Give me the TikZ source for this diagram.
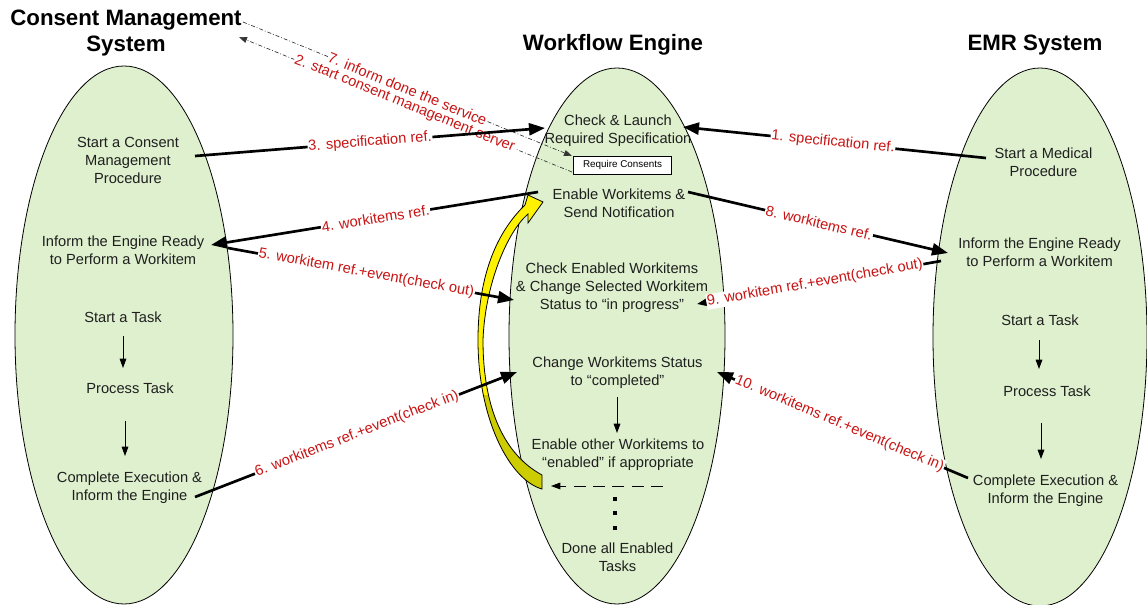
\documentclass[tikz,border=0pt]{standalone}
\usepackage{fontspec}
\setmainfont{Liberation Sans}
\usetikzlibrary{arrows.meta}
\definecolor{egg}{RGB}{222,240,206}
\definecolor{lblred}{RGB}{200,20,20}
\definecolor{olivey}{RGB}{204,204,0}
\begin{document}
\begin{tikzpicture}[x=0.75pt,y=-0.75pt,
  txt/.style={font=\fontsize{11}{13.5}\selectfont, align=center, inner sep=0pt, text=black!88},
  ttl/.style={font=\fontsize{16.7}{20}\selectfont\bfseries, align=center, inner sep=0pt},
  conn/.style={line width=2pt, -{Triangle[length=12pt,width=9pt]}},
  lbl/.style={font=\fontsize{11}{13}\selectfont, text=lblred, fill=white, inner sep=0.6pt, sloped},
  smallarr/.style={line width=0.7pt, -{Triangle[length=7pt,width=5pt]}},
  dd/.style={line width=0.5pt, black!80, dash pattern=on 3pt off 1.5pt on 0.6pt off 1.5pt, -{Triangle[length=6pt,width=4.5pt]}},
  oval/.style={draw, fill=egg, line width=0.6pt}
]
\useasboundingbox (0,0) rectangle (1147,605);

% ellipses
\draw[oval] (124,335) ellipse [x radius=109, y radius=269];
\draw[oval] (617,336) ellipse [x radius=108, y radius=268];
\draw[oval] (1040,337) ellipse [x radius=107, y radius=269];

% titles
\node[ttl] (t1) at (126,33) {Consent Management\\System};
\node[ttl] (t2) at (613,45) {Workflow Engine};
\node[ttl] (t3) at (1035,45) {EMR System};

% left texts
\node[txt] (l1) at (128,160) {Start a Consent\\Management\\Procedure};
\node[txt] (l2) at (123,250) {Inform the Engine Ready\\to Perform a Workitem};
\node[txt] (l3) at (123,317) {Start a Task};
\node[txt] (l4) at (130,388) {Process Task};
\node[txt] (l5) at (129.5,488) {Complete Execution \&\\Inform the Engine};

% middle texts
\node[txt] (m1) at (618,131) {Check \& Launch\\Required Specification};
\node[draw, fill=white, line width=0.6pt, minimum width=74pt, minimum height=13.5pt, inner sep=0pt,
      font=\fontsize{7.4}{9}\selectfont] (rc) at (622.5,165) {Require Consents};
\node[txt] (m2) at (619,203) {Enable Workitems \&\\Send Notification};
\node[txt] (m3) at (612,288) {Check Enabled Workitems\\\& Change Selected Workitem\\Status to “in progress”};
\node[txt] (m4) at (617.5,372.5) {Change Workitems Status\\to “completed”};
\node[txt] (m5) at (618,454.5) {Enable other Workitems to\\“enabled” if appropriate};
\node[txt] (m6) at (617.5,557.5) {Done all Enabled\\Tasks};

% right texts
\node[txt] (r1) at (1043.5,162.5) {Start a Medical\\Procedure};
\node[txt] (r2) at (1039.5,252) {Inform the Engine Ready\\to Perform a Workitem};
\node[txt] (r3) at (1040,320) {Start a Task};
\node[txt] (r4) at (1047,391) {Process Task};
\node[txt] (r5) at (1045.5,490.5) {Complete Execution \&\\Inform the Engine};

% yellow curved arrow
\draw[line width=0.6pt, fill=yellow, path picture={\fill[olivey] (400,395) rectangle (600,520);}]
  (542,489) .. controls (510,480) and (478,420) .. (478,340)
  .. controls (478,275) and (497,232) .. (525,205)
  -- (528,195) -- (543,202) -- (528,223) -- (528,214)
  .. controls (507,232) and (485,285) .. (483,340)
  .. controls (483,410) and (505,455) .. (542,475) -- cycle;

% internal arrows
\coordinate (la1) at (123,336); \coordinate (la2) at (123,368);
\coordinate (la3) at (125,421); \coordinate (la4) at (125,456);
\draw[smallarr] (la1) -- (la2);
\draw[smallarr] (la3) -- (la4);
\coordinate (ma1) at (617,397); \coordinate (ma2) at (617,433);
\draw[smallarr] (ma1) -- (ma2);
\coordinate (ra1) at (1039,340); \coordinate (ra2) at (1039,369);
\coordinate (ra3) at (1041,423); \coordinate (ra4) at (1041,459);
\draw[smallarr] (ra1) -- (ra2);
\draw[smallarr] (ra3) -- (ra4);

% dashed arrow and dots
\coordinate (da1) at (663,486); \coordinate (da2) at (551,486);
\draw[line width=0.7pt, dash pattern=on 9pt off 5.5pt, -{Triangle[length=7pt,width=5pt]}] (da1) -- (da2);
\fill (612.5,497) rectangle (616.5,501);
\fill (612.5,511) rectangle (616.5,515);
\fill (612.5,526) rectangle (616.5,530);

% connector end points
\coordinate (c1s) at (986,158);  \coordinate (c1e) at (683,127);
\coordinate (c3s) at (195,156);  \coordinate (c3e) at (545,128);
\coordinate (c4s) at (538,192);  \coordinate (c4e) at (211,245);
\coordinate (c5s) at (228,248);  \coordinate (c5e) at (514,300);
\coordinate (c6s) at (195,497);  \coordinate (c6e) at (517,372);
\coordinate (c8s) at (688,192);  \coordinate (c8e) at (948,253);
\coordinate (c9s) at (941,261);  \coordinate (c9e) at (697,304);
\coordinate (c10s) at (968,478); \coordinate (c10e) at (717,372);
\coordinate (c7s) at (243,22);   \coordinate (c7e) at (572,156);
\coordinate (c2s) at (572,172);  \coordinate (c2e) at (239,37);

% dash-dot connectors
\draw[dd] (c2s) -- node[lbl, pos=0.503] (n2) {2. start consent management server} (c2e);
\draw[dd] (c7s) -- node[lbl, pos=0.5] (n7) {7. inform done the service} (c7e);

% solid connectors
\draw[conn] (c1s) -- node[lbl, pos=0.505] (n1) {1. specification ref.} (c1e);
\draw[conn] (c3s) -- node[lbl, pos=0.5] (n3) {3. specification ref.} (c3e);
\draw[conn] (c4s) -- node[lbl, pos=0.497] (n4) {4. workitems ref.} (c4e);
\draw[conn] (c5s) -- node[lbl, pos=0.484] (n5) {5. workitem ref.+event(check out)} (c5e);
\draw[conn] (c6s) -- node[lbl, pos=0.503] (n6) {6. workitems ref.+event(check in)} (c6e);
\draw[conn] (c8s) -- node[lbl, pos=0.504] (n8) {8. workitems ref.} (c8e);
\draw[conn] (c9s) -- node[lbl, pos=0.517] (n9) {9. workitem ref.+event(check out)} (c9e);
\draw[conn] (c10s) -- node[lbl, pos=0.512] (n10) {10. workitems ref.+event(check in)} (c10e);
\end{tikzpicture}
\end{document}
